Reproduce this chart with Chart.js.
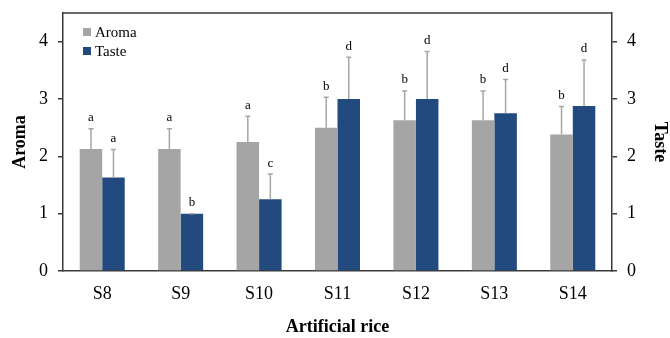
<!DOCTYPE html>
<html>
<head>
<meta charset="utf-8">
<script src="https://cdn.jsdelivr.net/npm/chart.js@4.4.1/dist/chart.umd.min.js"></script>
<style>
html,body{margin:0;padding:0;background:#fff;}
#wrap{width:670px;height:338px;position:relative;}
</style>
</head>
<body>
<div id="wrap"><canvas id="c" width="670" height="338"></canvas></div>
<script>
const categories = ['S8','S9','S10','S11','S12','S13','S14'];
const aromaValues = [2.13, 2.13, 2.25, 2.50, 2.63, 2.63, 2.38];
const tasteValues = [1.63, 1.00, 1.25, 3.00, 3.00, 2.75, 2.88];
const aromaErr = [0.35, 0.35, 0.45, 0.53, 0.51, 0.51, 0.49];
const tasteErr = [0.49, 0.00, 0.44, 0.73, 0.83, 0.59, 0.80];
const aromaLetters = ['a','a','a','b','b','b','b'];
const tasteLetters = ['a','b','c','d','d','d','d'];
const yTickValues = [0, 1, 2, 3, 4];

const FONT = "'Liberation Serif', 'Times New Roman', serif";
const AROMA_COLOR = '#A5A5A5';
const TASTE_COLOR = '#234A7E';
const AXIS_COLOR = '#3a3a3a';

const extrasPlugin = {
  id: 'extras',
  afterDatasetsDraw(chart) {
    const ctx = chart.ctx;
    const ys = chart.scales.y;
    const errs = [aromaErr, tasteErr];
    const letters = [aromaLetters, tasteLetters];
    ctx.save();
    chart.data.datasets.forEach((ds, i) => {
      const meta = chart.getDatasetMeta(i);
      meta.data.forEach((el, j) => {
        const v = ds.data[j];
        const top = ys.getPixelForValue(v + errs[i][j]);
        const base = ys.getPixelForValue(v);
        ctx.strokeStyle = '#A6A6A6';
        ctx.lineWidth = 1.5;
        ctx.beginPath();
        ctx.moveTo(el.x, base);
        ctx.lineTo(el.x, top);
        ctx.moveTo(el.x - 2.5, top);
        ctx.lineTo(el.x + 2.5, top);
        ctx.stroke();
        ctx.fillStyle = '#000';
        ctx.font = '13px ' + FONT;
        ctx.textAlign = 'center';
        ctx.textBaseline = 'middle';
        ctx.fillText(letters[i][j], el.x, top - 11);
      });
    });
    // top border of the box
    const a = chart.chartArea;
    ctx.strokeStyle = AXIS_COLOR;
    ctx.lineWidth = 1.5;
    ctx.beginPath();
    ctx.moveTo(a.left, a.top);
    ctx.lineTo(a.right, a.top);
    ctx.stroke();
    // legend
    chart.data.datasets.forEach((ds, i) => {
      const cy = a.top + 19 + i * 19;
      ctx.fillStyle = ds.backgroundColor;
      ctx.fillRect(a.left + 20, cy - 4, 8, 8);
      ctx.fillStyle = '#000';
      ctx.font = '15px ' + FONT;
      ctx.textAlign = 'left';
      ctx.textBaseline = 'middle';
      ctx.fillText(ds.label, a.left + 32, cy + 1);
    });
    ctx.restore();
  }
};

function yAxis(position, title, width, titlePad) {
  return {
    position: position,
    min: 0,
    max: 4.5,
    afterBuildTicks(scale) {
      scale.ticks = yTickValues.map(v => ({ value: v }));
    },
    afterFit(scale) {
      scale.width = width;
      scale.paddingTop = 0;
      scale.paddingBottom = 0;
    },
    ticks: {
      color: '#000',
      font: { family: FONT, size: 18 },
      padding: 10,
      callback: v => String(v)
    },
    grid: {
      drawOnChartArea: false,
      drawTicks: true,
      tickLength: 5,
      color: AXIS_COLOR,
      lineWidth: 1.5
    },
    border: { display: true, color: AXIS_COLOR, width: 1.5 },
    title: {
      display: true,
      text: title,
      color: '#000',
      font: { family: FONT, size: 18, weight: 'bold' },
      padding: { top: titlePad, bottom: 0 }
    }
  };
}

new Chart(document.getElementById('c'), {
  type: 'bar',
  data: {
    labels: categories,
    datasets: [
      { label: 'Aroma', data: aromaValues, backgroundColor: AROMA_COLOR, yAxisID: 'y',
        categoryPercentage: 0.574, barPercentage: 1.0 },
      { label: 'Taste', data: tasteValues, backgroundColor: TASTE_COLOR, yAxisID: 'y',
        categoryPercentage: 0.574, barPercentage: 1.0 }
    ]
  },
  options: {
    responsive: false,
    animation: false,
    events: [],
    layout: { padding: { top: 13, left: 0, right: 0, bottom: 0 } },
    plugins: { legend: { display: false }, tooltip: { enabled: false } },
    scales: {
      x: {
        afterFit(scale) { scale.height = 67; scale.paddingLeft = 0; scale.paddingRight = 0; },
        ticks: { color: '#000', font: { family: FONT, size: 18 }, padding: 12 },
        grid: { display: false, drawTicks: false },
        border: { display: true, color: AXIS_COLOR, width: 1.5 },
        title: {
          display: true,
          text: 'Artificial rice',
          color: '#000',
          font: { family: FONT, size: 18, weight: 'bold' },
          padding: { top: 0, bottom: 0 }
        }
      },
      y: yAxis('left', 'Aroma', 63, 10),
      y2: yAxis('right', 'Taste', 58, 0)
    }
  },
  plugins: [extrasPlugin]
});
</script>
</body>
</html>
